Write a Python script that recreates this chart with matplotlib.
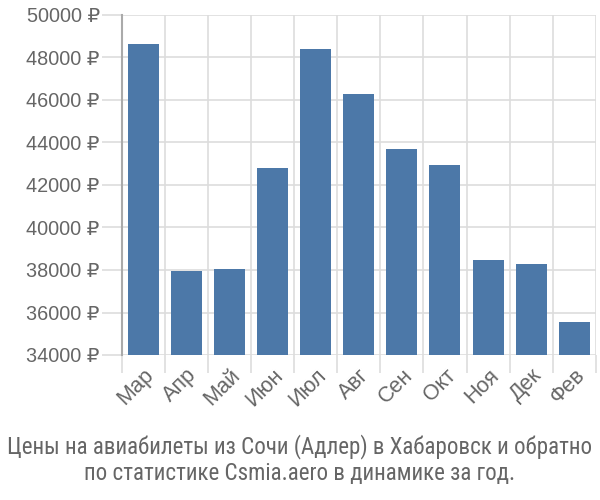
import matplotlib.pyplot as plt
import numpy as np

months = ['Мар', 'Апр', 'Май', 'Июн', 'Июл', 'Авг', 'Сен', 'Окт', 'Ноя', 'Дек', 'Фев']
prices = [48630, 37950, 38050, 42800, 48400, 46280, 43690, 42940, 38470, 38280, 35550]
yticks = [34000, 36000, 38000, 40000, 42000, 44000, 46000, 48000, 50000]

plt.rcParams['font.family'] = ['Liberation Sans', 'DejaVu Sans']

fig = plt.figure(figsize=(6, 5), dpi=100)
ax = fig.add_axes([0.203, 0.29, 0.79, 0.68])

x = np.arange(len(months))
ax.bar(x, prices, width=0.72, color='#4c78a8', zorder=3)

ax.set_xlim(-0.5, len(months) - 0.5)
ax.set_ylim(34000, 50000)
ax.set_yticks(yticks)
ax.set_yticklabels([f'{v} ₽' for v in yticks], fontsize=14.3, color='#666666')
ax.set_xticks(x)
ax.set_xticklabels(months, fontsize=15.5, color='#666666', rotation=45,
                   ha='right', rotation_mode='anchor')
ax.set_xticks(np.arange(len(months) + 1) - 0.5, minor=True)

# длины засечек задаются в пунктах: 20 px = 14.4 pt
ax.tick_params(axis='x', which='major', length=0, pad=7)
ax.tick_params(axis='x', which='minor', length=13, color='#dddddd', width=1.2)
ax.tick_params(axis='y', length=14.4, color='#dddddd', width=1.2, pad=1.5)

ax.grid(axis='y', color='#dddddd', linewidth=1.2, zorder=0)
ax.grid(axis='x', which='minor', color='#dddddd', linewidth=1.2, zorder=0)

for s in ['top', 'right', 'bottom']:
    ax.spines[s].set_visible(False)
ax.spines['left'].set_color('#aaaaaa')
ax.spines['left'].set_linewidth(1.5)

fig.text(0.5, 0.081, 'Цены на авиабилеты из Сочи (Адлер) в Хабаровск и обратно\nпо статистике Csmia.aero в динамике за год.',
         ha='center', va='center', fontsize=16.6, color='#666666',
         family=['Roboto Condensed', 'PT Sans Narrow', 'DejaVu Sans'], linespacing=1.12)

fig.savefig('out.png')
